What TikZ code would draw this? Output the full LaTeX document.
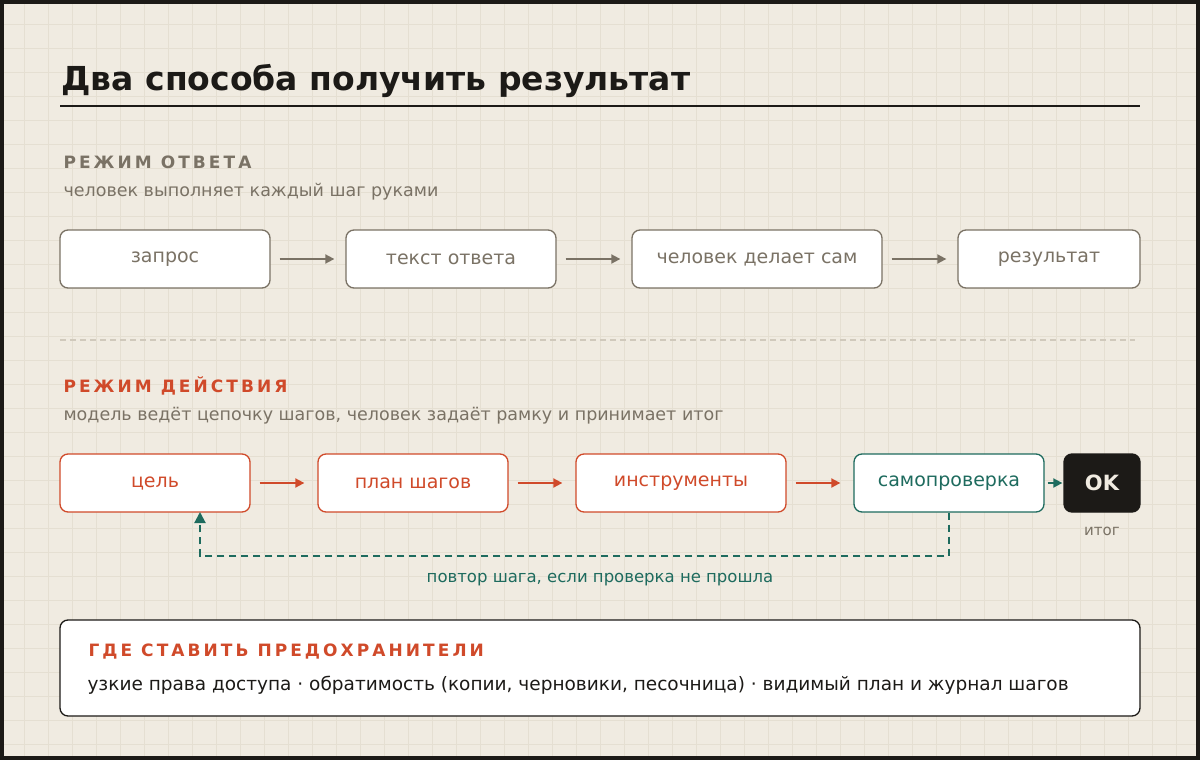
\documentclass[tikz,border=0pt]{standalone}
\usepackage{fontspec}
\setmainfont{DejaVu Sans}
\usetikzlibrary{positioning,arrows.meta}
\definecolor{paper}{HTML}{F0EBE1}
\definecolor{gridc}{HTML}{E5DFD2}
\definecolor{muted}{HTML}{7A7265}
\definecolor{rust}{HTML}{D04A2A}
\definecolor{teal}{HTML}{1E6B5E}
\definecolor{ink}{HTML}{1C1A17}
\tikzset{
  box/.style={draw=muted,line width=1.3pt,rounded corners=8pt,fill=white,minimum height=58pt,text=muted,font=\fontsize{19}{22}\selectfont},
  act/.style={box,draw=rust,text=rust},
  flow/.style={-{Triangle[length=9pt,width=9pt]},line width=1.8pt},
  head/.style={anchor=base west,font=\fontsize{17}{20}\selectfont\bfseries\addfontfeatures{LetterSpace=18}},
  sub/.style={anchor=base west,text=muted,font=\fontsize{17.5}{20}\selectfont}
}
\begin{document}
\begin{tikzpicture}[x=1pt,y=-1pt]
\useasboundingbox (0,0) rectangle (1200,760);
% background and grid
\fill[paper] (0,0) rectangle (1200,760);
\foreach \gx in {24,48,...,1200} \draw[gridc,line width=0.8pt] (\gx,0) -- (\gx,760);
\foreach \gy in {24,48,...,760} \draw[gridc,line width=0.8pt] (0,\gy) -- (1200,\gy);
\draw[ink,line width=4pt] (2,2) rectangle (1198,758);
% title
\node[anchor=base west,text=ink,font=\fontsize{33}{38}\selectfont\bfseries] (title) at (58,90) {Два способа получить результат};
\draw[ink,line width=2pt] (60,106) -- (1140,106);
% answer mode
\node[head,text=muted] (hA) at (60,168) {РЕЖИМ ОТВЕТА};
\node[sub] (sA) at (60,196) {человек выполняет каждый шаг руками};
\node[box,minimum width=210pt] (q) at (165,259) {запрос};
\node[box,minimum width=210pt] (t) at (451,259) {текст ответа};
\node[box,minimum width=250pt] (h) at (757,259) {человек делает сам};
\node[box,minimum width=182pt] (r) at (1049,259) {результат};
\foreach \a/\b in {q/t,t/h,h/r}
  \draw[flow,muted,shorten <=9pt,shorten >=11pt] (\a) -- (\b);
\draw[gridc!80!muted,line width=1.3pt,dash pattern=on 6pt off 4pt] (60,340) -- (1135,340);
% action mode
\node[head,text=rust] (hB) at (60,392) {РЕЖИМ ДЕЙСТВИЯ};
\node[sub] (sB) at (60,420) {модель ведёт цепочку шагов, человек задаёт рамку и принимает итог};
\node[act,minimum width=190pt] (goal) at (155,483) {цель};
\node[act,minimum width=190pt] (plan) at (413,483) {план шагов};
\node[act,minimum width=210pt] (tool) at (681,483) {инструменты};
\node[box,draw=teal,text=teal,minimum width=190pt] (chk) at (949,483) {самопроверка};
\node[box,draw=ink,fill=ink,text=paper,minimum width=76pt,font=\fontsize{21}{24}\selectfont\bfseries] (ok) at (1102,483) {OK};
\node[text=muted,font=\fontsize{15}{18}\selectfont] (res) at (1102,531) {итог};
\foreach \a/\b in {goal/plan,plan/tool,tool/chk}
  \draw[flow,rust,shorten <=9pt,shorten >=13pt] (\a) -- (\b);
\draw[flow,teal,shorten <=3pt,shorten >=1pt] (chk) -- (ok);
\coordinate (back) at (200,512);
\draw[teal,line width=2pt,dash pattern=on 7pt off 5pt,-{Triangle[length=11pt,width=11pt]}] (chk.south) |- (200,556) -- (back);
\node[text=teal,font=\fontsize{16.5}{20}\selectfont] (loop) at (600,580) {повтор шага, если проверка не прошла};
% fuses
\node[draw=ink,line width=1.3pt,rounded corners=8pt,fill=white,minimum width=1080pt,minimum height=96pt] (fuse) at (600,668) {};
\node[head,text=rust] (hC) at (85,656) {ГДЕ СТАВИТЬ ПРЕДОХРАНИТЕЛИ};
\node[anchor=base west,text=ink,font=\fontsize{18.5}{22}\selectfont] (fT) at (84,690) {узкие права доступа · обратимость (копии, черновики, песочница) · видимый план и журнал шагов};
\end{tikzpicture}
\end{document}
